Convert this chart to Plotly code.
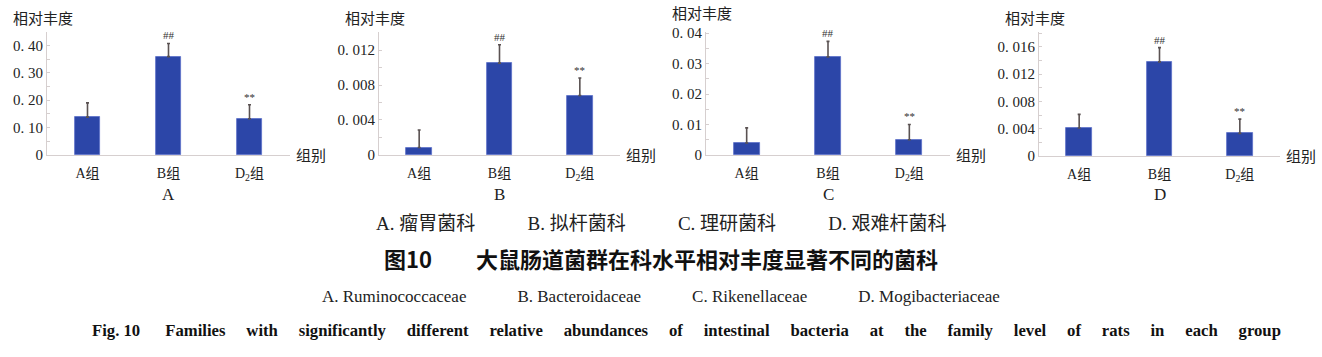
import plotly.graph_objects as go

W, H = 1322, 357

# ---------------- data ----------------
groups = ["A组", "B组", "D<sub>2</sub>组"]
panel_letters = ["A", "B", "C", "D"]

ruminococcaceae = [0.138, 0.359, 0.132]
ruminococcaceae_err = [0.052, 0.048, 0.051]
bacteroidaceae = [0.00085, 0.0105, 0.0068]
bacteroidaceae_err = [0.0020, 0.0021, 0.0020]
rikenellaceae = [0.0039, 0.0322, 0.0050]
rikenellaceae_err = [0.0050, 0.0051, 0.0050]
mogibacteriaceae = [0.0041, 0.0138, 0.0033]
mogibacteriaceae_err = [0.0020, 0.0021, 0.0021]

signif = ["", "##", "**"]

tick_vals_A = [0, 0.1, 0.2, 0.3, 0.4]
tick_text_A = ["0", "0. 10", "0. 20", "0. 30", "0. 40"]
tick_vals_B = [0, 0.004, 0.008, 0.012]
tick_text_B = ["0", "0. 004", "0. 008", "0. 012"]
tick_vals_C = [0, 0.01, 0.02, 0.03, 0.04]
tick_text_C = ["0", "0. 01", "0. 02", "0. 03", "0. 04"]
tick_vals_D = [0, 0.004, 0.008, 0.012, 0.016]
tick_text_D = ["0", "0. 004", "0. 008", "0. 012", "0. 016"]

y_label = "相对丰度"
x_label = "组别"

caption_cn_items = ["A. 瘤胃菌科", "B. 拟杆菌科", "C. 理研菌科", "D. 艰难杆菌科"]
title_cn = ["图10", "大鼠肠道菌群在科水平相对丰度显著不同的菌科"]
caption_en_items = ["A. Ruminococcaceae", "B. Bacteroidaceae", "C. Rikenellaceae", "D. Mogibacteriaceae"]
title_en_head = "Fig. 10"
title_en_body = "Families with significantly different relative abundances of intestinal bacteria at the family level of rats in each group"

# ---------------- layout helpers (pixels) ----------------
panels = [
    dict(vals=ruminococcaceae, err=ruminococcaceae_err, tv=tick_vals_A, tt=tick_text_A,
         x0=47, x1=290, ytop=27, yzero=155, yr=[0, 0.449], lab_dy=0),
    dict(vals=bacteroidaceae, err=bacteroidaceae_err, tv=tick_vals_B, tt=tick_text_B,
         x0=379, x1=620, ytop=27, yzero=155, yr=[0, 0.01407], lab_dy=0),
    dict(vals=rikenellaceae, err=rikenellaceae_err, tv=tick_vals_C, tt=tick_text_C,
         x0=706, x1=950, ytop=27, yzero=155, yr=[0, 0.0404], lab_dy=5),
    dict(vals=mogibacteriaceae, err=mogibacteriaceae_err, tv=tick_vals_D, tt=tick_text_D,
         x0=1039, x1=1280, ytop=27, yzero=156, yr=[0, 0.0182], lab_dy=0),
]

SERIF = "Liberation Serif, Noto Sans CJK SC, serif"
CJK = "Noto Sans CJK SC, sans-serif"
BAR = "rgb(44,70,168)"
AXC = "#d6cfcf"

fig = go.Figure()
annotations = []

for i, p in enumerate(panels):
    n = "" if i == 0 else str(i + 1)
    xa, ya = "x" + n, "y" + n
    fig.add_trace(go.Bar(
        x=[0, 1, 2], y=p["vals"], xaxis=xa, yaxis=ya,
        width=0.32,
        marker=dict(color=BAR, line=dict(color="rgb(90,110,200)", width=0.8)),
        error_y=dict(type="data", array=p["err"], arrayminus=[0] * len(p["err"]),
                     symmetric=False, color="#5a5252", thickness=1.6, width=1.5),
        showlegend=False, hoverinfo="skip",
    ))
    fig.update_layout({
        "xaxis" + n: dict(
            domain=[p["x0"] / W, p["x1"] / W], anchor=ya, range=[-0.5, 2.5],
            tickvals=[0, 1, 2], ticktext=groups, showline=True, linecolor=AXC,
            linewidth=1.2, ticks="", showgrid=False, zeroline=False,
            ticklabelstandoff=5,
            tickfont=dict(family=SERIF, size=14, color="#222"), fixedrange=True,
        ),
        "yaxis" + n: dict(
            domain=[1 - p["yzero"] / H, 1 - p["ytop"] / H], anchor=xa, range=p["yr"],
            tickvals=p["tv"], ticktext=p["tt"], showline=True, linecolor=AXC,
            linewidth=1.2, ticks="inside", ticklen=3, tickcolor=AXC,
            minor=dict(ticks="inside", ticklen=3, tickcolor=AXC,
                       dtick=(p["tv"][1] - p["tv"][0]) / 2),
            showgrid=False, zeroline=False,
            tickfont=dict(family=SERIF, size=15, color="#222"), fixedrange=True,
        ),
    })
    # significance marks
    for k, s in enumerate(signif):
        if s:
            annotations.append(dict(
                x=k, y=p["vals"][k] + p["err"][k], xref=xa, yref=ya,
                text=s, showarrow=False, yanchor="bottom", yshift=0,
                font=dict(family=SERIF, size=11, color="#333333"),
            ))
    # y label
    annotations.append(dict(
        x=0, xref=xa + " domain", y=1, yref=ya + " domain", xanchor="left",
        yanchor="bottom", xshift=-36, yshift=2 + p["lab_dy"], text=y_label,
        showarrow=False, font=dict(family=CJK, size=15, color="#222"),
    ))
    # x label
    annotations.append(dict(
        x=1, xref=xa + " domain", y=0, yref=ya + " domain", xanchor="left",
        yanchor="middle", xshift=4, text=x_label, showarrow=False,
        font=dict(family=CJK, size=15, color="#222"),
    ))
    # panel letter
    annotations.append(dict(
        x=1, xref=xa, y=1 - 196 / H, yref="paper", xanchor="center",
        yanchor="middle", text=panel_letters[i], showarrow=False,
        font=dict(family=SERIF, size=17, color="#222"),
    ))

NB = "\u00a0"
IS = "\u3000"
annotations.append(dict(
    x=0.5, y=1 - 226 / H, xref="paper", yref="paper", xanchor="center", yanchor="middle",
    text=(IS * 2 + NB * 3).join(caption_cn_items), showarrow=False,
    font=dict(family=SERIF, size=19, color="#222"),
))
annotations.append(dict(
    x=0.5, y=1 - 262 / H, xref="paper", yref="paper", xanchor="center", yanchor="middle",
    text="<b>" + title_cn[0] + IS * 2 + title_cn[1] + "</b>", showarrow=False,
    font=dict(family="Noto Sans CJK SC, Liberation Serif, sans-serif", size=22, color="#111"),
))
annotations.append(dict(
    x=0.5, y=1 - 302 / H, xref="paper", yref="paper", xanchor="center", yanchor="middle",
    text=(NB * 12).join(caption_en_items), showarrow=False,
    font=dict(family=SERIF, size=17, color="#222"),
))
annotations.append(dict(
    x=686 / W, y=1 - 338 / H, xref="paper", yref="paper", xanchor="center", yanchor="middle",
    text="<b>" + title_en_head + NB * 6 + (NB * 5).join(title_en_body.split(" ")) + "</b>",
    showarrow=False, font=dict(family=SERIF, size=16.7, color="#111"),
))

fig.update_layout(
    width=W, height=H, margin=dict(l=0, r=0, t=0, b=0),
    paper_bgcolor="white", plot_bgcolor="white",
    annotations=annotations, bargap=0,
)

fig.write_html("out.html", config={"displayModeBar": False},
               post_script="document.body.style.margin='0';document.body.style.overflow='hidden';")
